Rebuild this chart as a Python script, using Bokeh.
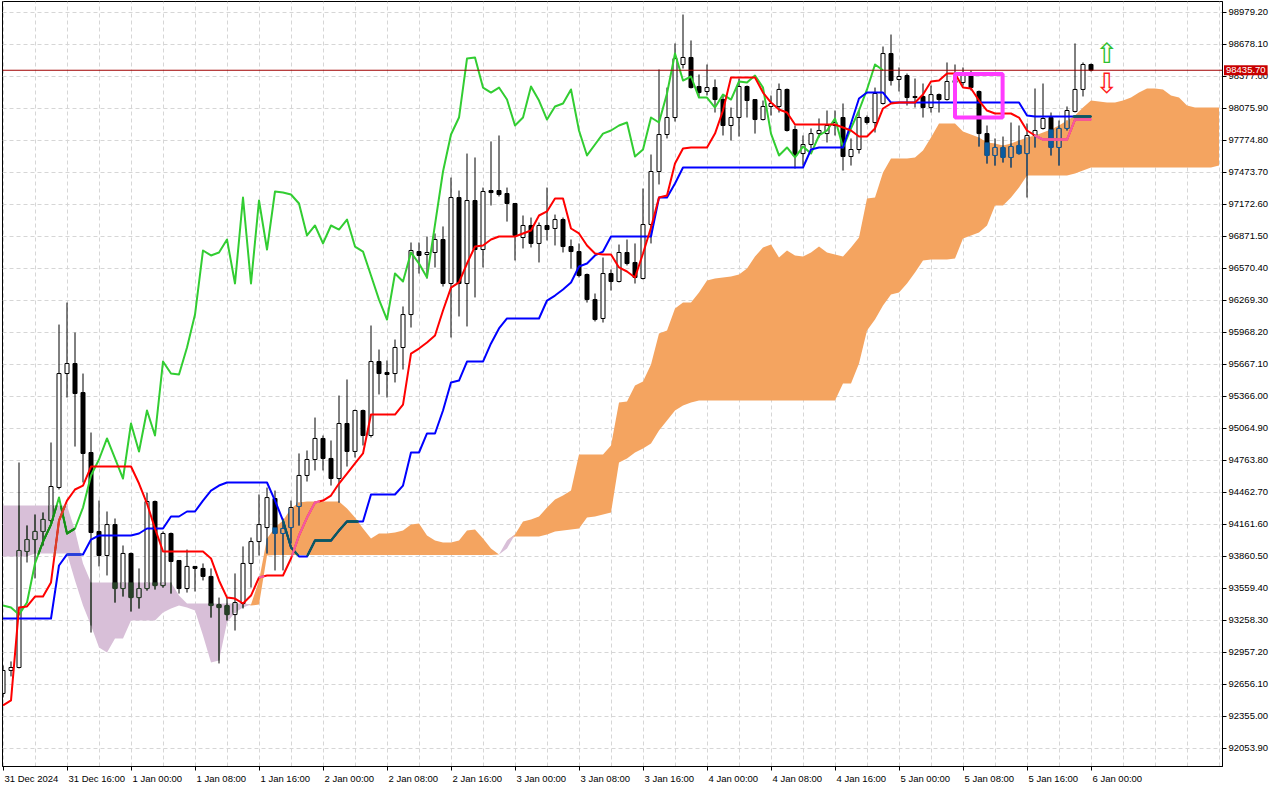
import numpy as np
from bokeh.plotting import figure
from bokeh.models import FixedTicker, Range1d, Span, Label, NumeralTickFormatter
from bokeh.core.properties import value
from bokeh.embed import file_html
from bokeh.resources import INLINE

# ---------------- data (hourly BTC candles, bar 0 = 31 Dec 2024 08:00) ----------------
label_bars = [0, 8, 16, 24, 32, 40, 48, 56, 64, 72, 80, 88, 96, 104, 112, 120, 128, 136]
time_labels = ["31 Dec 2024", "31 Dec 16:00", "1 Jan 00:00", "1 Jan 08:00", "1 Jan 16:00",
               "2 Jan 00:00", "2 Jan 08:00", "2 Jan 16:00", "3 Jan 00:00", "3 Jan 08:00",
               "3 Jan 16:00", "4 Jan 00:00", "4 Jan 08:00", "4 Jan 16:00", "5 Jan 00:00",
               "5 Jan 08:00", "5 Jan 16:00", "6 Jan 00:00"]
price_ticks = [98979.20, 98678.10, 98377.00, 98075.90, 97774.80, 97473.70, 97172.60, 96871.50,
               96570.40, 96269.30, 95968.20, 95667.10, 95366.00, 95064.90, 94763.80, 94462.70,
               94161.60, 93860.50, 93559.40, 93258.30, 92957.20, 92656.10, 92355.00, 92053.90]
last_price = 98435.70

opens = [
    92572, 92788, 92816, 93908, 94020, 94096, 94199, 94510, 95582, 95676,
    95403, 94839, 94096, 93870, 94161, 93559, 93889, 93474, 93559, 94378,
    93587, 94077, 93823, 93559, 93767, 93748, 93673, 93408, 93399, 93314,
    93418, 93795, 94001, 94133, 94406, 94077, 94133, 94331, 94623, 94773,
    94971, 94783, 94594, 95112, 94849, 95234, 94999, 95695, 95592, 95582,
    95827, 96137, 96730, 96702, 96721, 96843, 96429, 97238, 96429, 97210,
    96749, 97304, 97304, 97276, 97182, 96862, 96975, 96806, 96975, 96947,
    97031, 96777, 96730, 96514, 96278, 96100, 96523, 96448, 96721, 96627,
    96476, 96984, 97483, 97831, 97991, 98490, 98556, 98283, 98236, 98273,
    98160, 97916, 97991, 98283, 98160, 97972, 98095, 98095, 98255, 97878,
    97652, 97737, 97840, 97840, 97916, 97991, 97624, 97690, 97991, 97944,
    98123, 98593, 98349, 98386, 98189, 98189, 98085, 98207, 98160, 98339,
    98320, 98386, 98236, 97840, 97634, 97709, 97615, 97728, 97652, 97822,
    97888, 97991, 97709, 97888, 98048, 98255, 98490]
highs = [
    92835, 92873, 94745, 94152, 94255, 94274, 94933, 96043, 96250, 95968,
    95582, 95027, 94387, 94284, 94218, 93964, 93898, 93748, 94462, 94387,
    94096, 94086, 93826, 93926, 93770, 93795, 93748, 93474, 93474, 93701,
    93955, 94039, 94444, 94509, 94481, 94218, 94387, 94830, 94858, 95168,
    94999, 94952, 95375, 95526, 95243, 95243, 96034, 95808, 95705, 95902,
    96213, 96815, 96815, 96871, 96900, 96966, 97426, 97304, 97652, 97615,
    97332, 97766, 97822, 97332, 97185, 97069, 97050, 97003, 97332, 97078,
    97050, 96843, 96806, 96523, 96335, 96674, 96561, 96796, 96843, 96806,
    97323, 97643, 98443, 98273, 98688, 98960, 98716, 98396, 98490, 98349,
    98198, 98085, 98358, 98292, 98162, 98151, 98198, 98311, 98264, 97916,
    97822, 97888, 97982, 98057, 98057, 98123, 97794, 98057, 98010, 98273,
    98659, 98772, 98462, 98405, 98358, 98311, 98292, 98217, 98509, 98490,
    98462, 98433, 98245, 97916, 97794, 97812, 97944, 97916, 97935, 98264,
    98311, 98038, 97963, 98095, 98688, 98509, 98499]
lows = [
    92534, 92732, 92807, 93804, 93654, 93964, 94180, 94491, 95356, 94895,
    94557, 93145, 93767, 93682, 93427, 93484, 93343, 93371, 93540, 93550,
    93568, 93512, 93512, 93521, 93531, 93635, 93286, 92854, 93258, 93164,
    93371, 93568, 93870, 93889, 93729, 93729, 93983, 94152, 94566, 94670,
    94670, 94528, 94368, 94707, 94792, 94905, 94980, 95385, 95356, 95498,
    95620, 96015, 96523, 96476, 96580, 96401, 95921, 96119, 96025, 96298,
    96580, 97163, 97248, 97012, 96646, 96759, 96768, 96627, 96834, 96787,
    96721, 96570, 96486, 96250, 96072, 96062, 96363, 96439, 96599, 96429,
    96467, 96806, 97361, 97794, 97953, 98452, 98264, 98179, 98198, 98038,
    97822, 97775, 97812, 97991, 97840, 97963, 98010, 98038, 97859, 97511,
    97539, 97700, 97803, 97756, 97822, 97492, 97539, 97652, 97925, 97850,
    98113, 98292, 98236, 98104, 98085, 97991, 98038, 98038, 98151, 98273,
    98292, 98245, 97718, 97558, 97539, 97568, 97520, 97643, 97238, 97709,
    97878, 97634, 97539, 97869, 98038, 98189, 98424]
closes = [
    92788, 92816, 93917, 94020, 94096, 94209, 94519, 95582, 95676, 95394,
    94830, 94086, 93870, 94161, 93559, 93889, 93474, 93559, 94378, 93587,
    94077, 93814, 93559, 93767, 93748, 93673, 93399, 93380, 93314, 93427,
    93795, 94001, 94161, 94415, 94077, 94124, 94321, 94623, 94773, 94971,
    94783, 94594, 95112, 94849, 95234, 94999, 95695, 95582, 95573, 95827,
    96137, 96740, 96693, 96721, 96843, 96429, 97238, 96429, 97210, 96749,
    97295, 97285, 97267, 97182, 96881, 96975, 96806, 96975, 96937, 97031,
    96777, 96730, 96504, 96278, 96090, 96523, 96448, 96721, 96617, 96486,
    96984, 97483, 97831, 97991, 98546, 98556, 98273, 98226, 98273, 98160,
    97916, 97991, 98283, 98151, 97972, 98095, 98123, 98255, 97869, 97634,
    97737, 97840, 97869, 97916, 97944, 97624, 97690, 97991, 97944, 98217,
    98593, 98339, 98377, 98179, 98179, 98085, 98207, 98160, 98330, 98320,
    98386, 98273, 97840, 97634, 97709, 97615, 97718, 97652, 97822, 97869,
    97982, 97709, 97888, 98057, 98255, 98490, 98435.7]

tenkan = [
    92459, 92506, 93380, 93390, 93484, 93484, 93616, 94199, 94387, 94491,
    94528, 94707, 94707, 94707, 94707, 94707, 94707, 94547, 94359, 94124,
    93908, 93908, 93908, 93908, 93908, 93908, 93842, 93635, 93474, 93465,
    93418, 93493, 93663, 93682, 93682, 93682, 93842, 94058, 94227, 94368,
    94387, 94434, 94547, 94641, 94736, 94830, 95196, 95196, 95196, 95196,
    95290, 95770, 95817, 95874, 95940, 96175, 96391, 96439, 96617, 96777,
    96787, 96843, 96871, 96871, 96871, 96900, 96928, 97069, 97107, 97229,
    97229, 96947, 96900, 96787, 96712, 96702, 96702, 96580, 96542, 96486,
    96712, 96956, 97238, 97257, 97558, 97700, 97709, 97709, 97709, 97840,
    98057, 98367, 98367, 98367, 98367, 98226, 98132, 98066, 98038, 97925,
    97925, 97925, 97925, 97925, 97925, 97897, 97869, 97812, 97812, 97888,
    98076, 98123, 98132, 98132, 98132, 98207, 98330, 98339, 98405, 98405,
    98273, 98264, 98151, 98057, 98029, 98029, 98029, 97991, 97869, 97822,
    97784, 97784, 97784, 97784, 97972, 97972, 97972]
kijun = [
    93277, 93277, 93277, 93277, 93277, 93277, 93277, 93776, 93880, 93880,
    93880, 94020, 94058, 94058, 94058, 94058, 94058, 94077, 94124, 94124,
    94124, 94237, 94237, 94284, 94284, 94387, 94481, 94528, 94557, 94557,
    94557, 94557, 94557, 94557, 94387, 94199, 93946, 93861, 93861, 94011,
    94011, 94011, 94105, 94190, 94190, 94190, 94444, 94444, 94444, 94444,
    94528, 94839, 94839, 95018, 95018, 95234, 95498, 95516, 95695, 95695,
    95695, 95865, 96006, 96100, 96100, 96100, 96100, 96100, 96269, 96316,
    96373, 96439, 96589, 96617, 96693, 96730, 96871, 96871, 96871, 96871,
    96871, 96871, 97238, 97238, 97370, 97521, 97521, 97521, 97521, 97521,
    97521, 97521, 97521, 97521, 97521, 97521, 97521, 97521, 97521, 97521,
    97521, 97690, 97709, 97709, 97709, 97709, 97935, 98170, 98226, 98226,
    98226, 98132, 98132, 98132, 98132, 98132, 98132, 98132, 98132, 98132,
    98132, 98132, 98132, 98132, 98132, 98132, 98132, 98132, 98010, 98001,
    98001, 98001, 98001, 98001, 98001, 98001, 98001]
span_a = [
    93861, 93861, 93861, 93861, 93889, 93889, 93889, 93889, 93889, 93635,
    93399, 93211, 93004, 92957, 93089, 93089, 93258, 93258, 93258, 93258,
    93333, 93371, 93399, 93380, 93352, 93117, 92863, 92882, 93239, 93333,
    93380, 93408, 93635, 94030, 94133, 94199, 94312, 94368, 94378, 94378,
    94378, 94378, 94378, 94312, 94227, 94124, 94030, 94077, 94077, 94086,
    94105, 94161, 94171, 94058, 94011, 93992, 93992, 94011, 94105, 94115,
    94030, 93936, 93880, 93936, 94067, 94190, 94209, 94237, 94321, 94397,
    94434, 94481, 94820, 94820, 94820, 94820, 94905, 95309, 95318, 95469,
    95507, 95667, 95959, 95987, 96194, 96250, 96250, 96344, 96457, 96476,
    96486, 96495, 96514, 96570, 96683, 96768, 96796, 96674, 96740, 96693,
    96683, 96721, 96777, 96721, 96702, 96683, 96768, 96862, 97229, 97238,
    97473, 97605, 97605, 97605, 97615, 97681, 97803, 97935, 97935, 97935,
    97859, 97831, 97803, 97756, 97747, 97728, 97747, 97775, 97803, 97822,
    97850, 97878, 97916, 97963, 98010, 98085, 98151, 98142, 98132, 98132,
    98151, 98179, 98226, 98264, 98264, 98255, 98198, 98179, 98104, 98085,
    98085, 98085, 98085]
span_b = [
    94340, 94340, 94340, 94340, 94340, 94340, 94340, 94340, 94340, 94105,
    93795, 93616, 93616, 93616, 93616, 93616, 93616, 93616, 93616, 93616,
    93616, 93616, 93493, 93418, 93418, 93418, 93418, 93418, 93418, 93418,
    93418, 93399, 93408, 93870, 93875, 93875, 93875, 93875, 93875, 93875,
    93875, 93875, 93875, 93875, 93875, 93875, 93875, 93875, 93875, 93875,
    93875, 93875, 93875, 93875, 93875, 93875, 93875, 93875, 93875, 93875,
    93875, 93875, 93880, 94011, 94049, 94049, 94049, 94049, 94067, 94096,
    94105, 94115, 94124, 94227, 94237, 94255, 94274, 94745, 94783, 94839,
    94877, 94924, 95046, 95140, 95234, 95281, 95309, 95328, 95328, 95328,
    95328, 95328, 95328, 95328, 95328, 95328, 95328, 95328, 95328, 95328,
    95328, 95328, 95328, 95328, 95328, 95488, 95488, 95676, 95987, 96090,
    96222, 96326, 96344, 96429, 96533, 96646, 96655, 96655, 96655, 96664,
    96852, 96881, 96909, 96975, 97163, 97163, 97238, 97332, 97445, 97445,
    97445, 97445, 97445, 97445, 97464, 97492, 97521, 97521, 97521, 97521,
    97521, 97521, 97521, 97521, 97521, 97521, 97521, 97521, 97521, 97521,
    97521, 97521, 97539]

chikou_shift = 26
# chart objects
box_time = [119.0, 124.95]
box_price = [97991, 98400]
arrow_time = 137.96
arrow_up_price = 98593
arrow_down_price = 98311

# ---------------- styling helpers ----------------
ORANGE = (244, 164, 96)
LAV = (216, 191, 216)
BLACK = (0, 0, 0)
RED = (255, 0, 0)
BLUE = (0, 0, 255)
GREEN = (50, 205, 50)


def hexc(rgb):
    return "#%02x%02x%02x" % tuple(rgb)


def mix(draw_rgb, cloud_rgb):
    # colour of a drawing over the cloud fill (terminal-style raster combine)
    return hexc(tuple(c ^ (255 - d) for d, c in zip(draw_rgb, cloud_rgb)))


FONT = "Liberation Sans"
FS = 9.5
PX_PER_BAR = 8.0
X0, X1 = -0.0625, 152.4375
FRAME_W = int(round((X1 - X0) * PX_PER_BAR))
Y0, Y1 = 91884.48, 99082.70
FRAME_H = 765

p = figure(frame_width=FRAME_W, frame_height=FRAME_H,
           x_range=Range1d(X0, X1), y_range=Range1d(Y0, Y1),
           y_axis_location="right", output_backend="svg", toolbar_location=None,
           min_border=0, min_border_left=2, min_border_right=0, min_border_top=1,
           min_border_bottom=0)
p.background_fill_color = "white"
p.border_fill_color = "white"
p.outline_line_color = "black"
p.outline_line_width = 1

for ax in (p.xaxis[0], p.yaxis[0]):
    ax.axis_line_color = "black"
    ax.major_tick_out = 4
    ax.major_tick_in = 0
    ax.major_label_text_font = FONT
    ax.major_label_text_font_size = "%gpx" % FS
    ax.major_label_text_color = "black"

# time labels start at their tick (as in the terminal): labels sit on shifted major
# ticks, the real tick marks are drawn as minor ticks at the label times
CW = {" ": 0.278, ":": 0.278, "D": 0.722, "e": 0.556, "c": 0.5, "J": 0.5, "a": 0.556, "n": 0.556}


def text_w(s):
    return sum(CW.get(ch, 0.556) for ch in s) * FS


label_pos = [b + (text_w(t) / 2 + 1.5) / PX_PER_BAR for b, t in zip(label_bars, time_labels)]
p.xaxis.ticker = FixedTicker(ticks=label_pos, minor_ticks=label_bars)
p.xaxis.major_label_overrides = {pos: t for pos, t in zip(label_pos, time_labels)}
p.xaxis.major_tick_line_color = None
p.xaxis.minor_tick_line_color = "black"
p.xaxis.minor_tick_out = 4
p.xaxis.minor_tick_in = 0
p.xaxis.major_label_standoff = 2

p.yaxis.ticker = FixedTicker(ticks=price_ticks)
p.yaxis.formatter = NumeralTickFormatter(format="0.00")
p.yaxis.major_tick_line_color = "black"
p.yaxis.minor_tick_line_color = None
p.yaxis.major_label_standoff = 2

p.xgrid.ticker = FixedTicker(ticks=list(range(0, 156, 4)))
p.ygrid.ticker = FixedTicker(ticks=price_ticks)
for g in (p.xgrid[0], p.ygrid[0]):
    g.grid_line_color = "#d6d6d6"
    g.grid_line_dash = "4 3"
    g.grid_line_width = 1

# ---------------- cloud ----------------
A = np.array(span_a, float)
B = np.array(span_b, float)
cloud_x = np.arange(len(A))
top = np.maximum(A, B)
p.varea(x=cloud_x, y1=B, y2=top, fill_color=hexc(ORANGE))
p.varea(x=cloud_x, y1=A, y2=top, fill_color=hexc(LAV))

# ---------------- candles ----------------
O = np.array(opens, float)
H = np.array(highs, float)
L = np.array(lows, float)
C = np.array(closes, float)
bars = np.arange(len(C))
bull = C >= O
btop = np.maximum(O, C)
bbot = np.minimum(O, C)
HW = 0.25

p.segment(bars, H, bars, L, line_color="black", line_width=1)
p.vbar(x=bars, width=2 * HW, top=btop, bottom=bbot,
       fill_color=["white" if u else "black" for u in bull],
       line_color="black", line_width=1)

# parts of candles lying inside the cloud take the combined colour
wx, wy0, wy1, wc = [], [], [], []
fx, ft, fb, fc = [], [], [], []
ex0, ey0, ex1, ey1, ec = [], [], [], [], []
for i in bars:
    a, b = A[i], B[i]
    lo, hi = min(a, b), max(a, b)
    if hi - lo <= 0:
        continue
    cc = ORANGE if a >= b else LAV
    edge = mix(BLACK, cc)
    w0, w1 = max(L[i], lo), min(H[i], hi)
    if w1 > w0:
        wx.append(i); wy0.append(w0); wy1.append(w1); wc.append(edge)
    t, bo = min(btop[i], hi), max(bbot[i], lo)
    if t > bo:
        fx.append(i); ft.append(t); fb.append(bo)
        fc.append(hexc(cc) if bull[i] else edge)
        for xe in (i - HW, i + HW):
            ex0.append(xe); ey0.append(bo); ex1.append(xe); ey1.append(t); ec.append(edge)
        if btop[i] <= hi:
            ex0.append(i - HW); ey0.append(btop[i]); ex1.append(i + HW); ey1.append(btop[i]); ec.append(edge)
        if bbot[i] >= lo:
            ex0.append(i - HW); ey0.append(bbot[i]); ex1.append(i + HW); ey1.append(bbot[i]); ec.append(edge)
    elif btop[i] == bbot[i] and lo <= btop[i] <= hi:
        ex0.append(i - HW); ey0.append(btop[i]); ex1.append(i + HW); ey1.append(btop[i]); ec.append(edge)

p.segment(wx, wy0, wx, wy1, line_color=wc, line_width=1)
p.vbar(x=fx, width=2 * HW, top=ft, bottom=fb, fill_color=fc, line_color=None)
p.segment(ex0, ey0, ex1, ey1, line_color=ec, line_width=1)

# ---------------- Ichimoku lines ----------------
chikou_x = bars[:len(C) - chikou_shift]
chikou_y = C[chikou_shift:]

series = [
    (chikou_x, chikou_y, GREEN),
    (bars, np.array(kijun, float), BLUE),
    (bars, np.array(tenkan, float), RED),
]


def cloud_overlay(xs, ys, rgb, steps=16):
    xs = np.asarray(xs, float)
    ys = np.asarray(ys, float)
    x0, y0, x1, y1, cols = [], [], [], [], []
    for i in range(len(xs) - 1):
        for j in range(steps):
            ta, tb = j / steps, (j + 1) / steps
            xa = xs[i] + (xs[i + 1] - xs[i]) * ta
            xb = xs[i] + (xs[i + 1] - xs[i]) * tb
            ya = ys[i] + (ys[i + 1] - ys[i]) * ta
            yb = ys[i] + (ys[i + 1] - ys[i]) * tb
            xm, ym = 0.5 * (xa + xb), 0.5 * (ya + yb)
            a = np.interp(xm, cloud_x, A)
            b = np.interp(xm, cloud_x, B)
            if min(a, b) < ym < max(a, b):
                cc = ORANGE if a >= b else LAV
                x0.append(xa); y0.append(ya); x1.append(xb); y1.append(yb)
                cols.append(mix(rgb, cc))
    return x0, y0, x1, y1, cols


for xs, ys, rgb in series:
    p.line(xs, ys, line_color=hexc(rgb), line_width=2, line_join="round")
    x0, y0, x1, y1, cols = cloud_overlay(xs, ys, rgb)
    if cols:
        p.segment(x0, y0, x1, y1, line_color=cols, line_width=2, line_cap="round")

# ---------------- objects ----------------
p.quad(left=[box_time[0]], right=[box_time[1]], bottom=[box_price[0]], top=[box_price[1]],
       fill_alpha=0, line_color="#ff3cff", line_width=4)

p.text(x=[arrow_time], y=[arrow_up_price], text=["\u21e7"], text_color="#2fc02f",
       text_font=value("DejaVu Sans"), text_font_size="28px",
       text_align="center", text_baseline="middle")
p.text(x=[arrow_time], y=[arrow_down_price], text=["\u21e9"], text_color="#ff1a1a",
       text_font=value("DejaVu Sans"), text_font_size="28px",
       text_align="center", text_baseline="middle")

p.add_layout(Span(location=last_price, dimension="width", line_color="#a00000", line_width=1))
price_label = Label(x=X1 + 1.5 / PX_PER_BAR, y=last_price, text="%.2f" % last_price,
                    text_color="white", text_font=FONT, text_font_size="%gpx" % FS,
                    text_align="left", text_baseline="middle",
                    background_fill_color="#c80000", padding=2)
p.add_layout(price_label, "right")

open("out.html", "w").write(file_html(p, INLINE))
